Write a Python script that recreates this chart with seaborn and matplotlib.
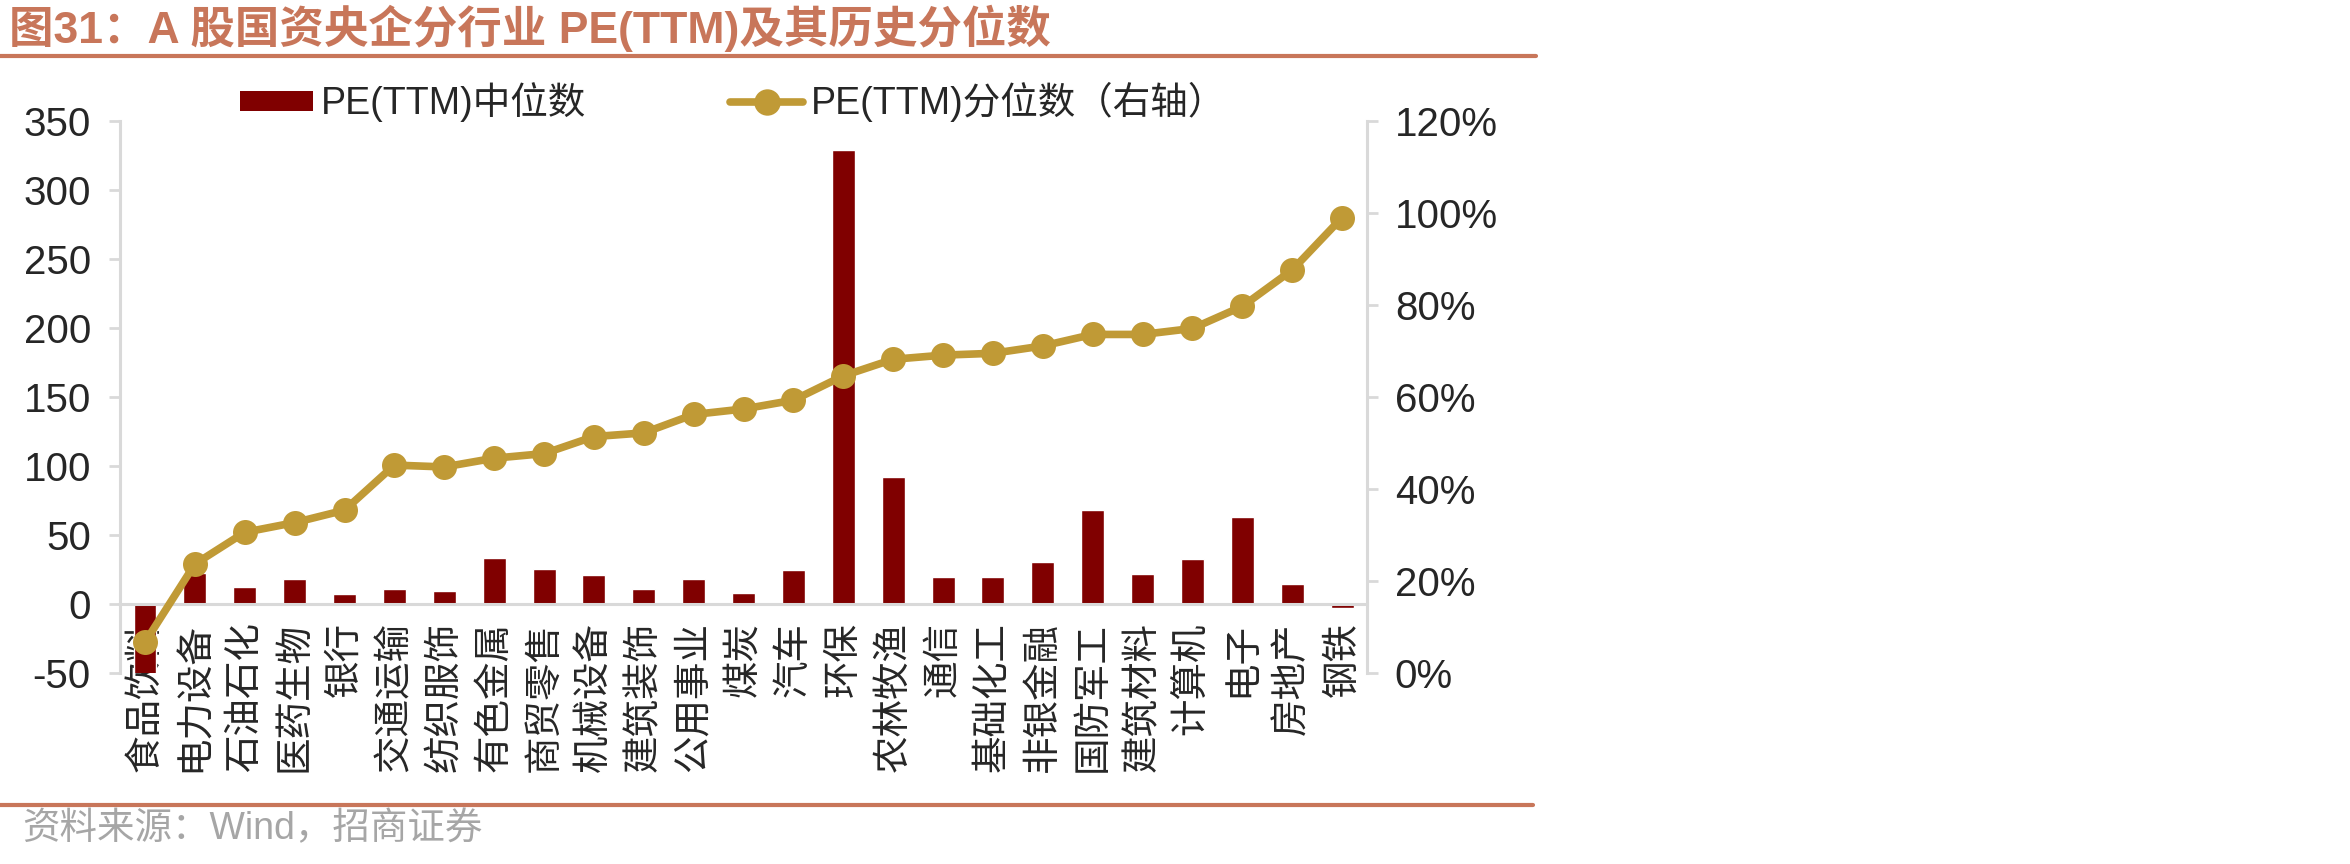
import numpy as np
import pandas as pd
import matplotlib
matplotlib.use("Agg")
import matplotlib.pyplot as plt
import seaborn as sns
from matplotlib.patches import Patch
from matplotlib.lines import Line2D
from matplotlib.ticker import PercentFormatter

# 行业名称
industries = ["食品饮料", "电力设备", "石油石化", "医药生物", "银行", "交通运输", "纺织服饰",
              "有色金属", "商贸零售", "机械设备", "建筑装饰", "公用事业", "煤炭", "汽车",
              "环保", "农林牧渔", "通信", "基础化工", "非银金融", "国防军工", "建筑材料",
              "计算机", "电子", "房地产", "钢铁"]
# PE(TTM)中位数（左轴）
pe_median = [-52, 22.4, 12, 18, 7.2, 10.8, 9.4, 33.5, 25.2, 21, 10.8, 18.3, 8.3, 24.7,
             329, 92.3, 19.7, 19.7, 30.5, 68.4, 21.6, 32.7, 63.2, 14.7, -2.8]
# PE(TTM)分位数（右轴）
pe_pct = [0.067, 0.237, 0.306, 0.327, 0.354, 0.452, 0.448, 0.467, 0.477, 0.514, 0.522,
          0.562, 0.574, 0.593, 0.646, 0.682, 0.691, 0.695, 0.711, 0.736, 0.736, 0.749,
          0.797, 0.876, 0.990]
left_ticks = [-50, 0, 50, 100, 150, 200, 250, 300, 350]
right_ticks = [0, 0.2, 0.4, 0.6, 0.8, 1.0, 1.2]

BAR = "#800000"
LINE = "#C09A36"
ACCENT = "#C8765A"
AXIS = "#D9D9D9"

sns.set_theme(style="white")
plt.rcParams["font.family"] = ["Liberation Sans", "Noto Sans CJK SC"]
plt.rcParams["axes.unicode_minus"] = False

df = pd.DataFrame({"行业": industries, "pe": pe_median, "pct": pe_pct})

fig = plt.figure(figsize=(23.5, 8.64), dpi=100)
ax = fig.add_axes([0.0511, 0.221, 0.5306, 0.639])

sns.barplot(data=df, x="行业", y="pe", color=BAR, saturation=1, width=0.46, ax=ax)
ax.set_xlim(-0.5, len(df) - 0.5)
ax.set_ylim(-50, 350)
ax.set_yticks(left_ticks)
ax.set_xlabel("")
ax.set_ylabel("")

# 横轴放在0处
ax.spines["bottom"].set_position(("data", 0))
for s in ["top", "right"]:
    ax.spines[s].set_visible(False)
for s in ["left", "bottom"]:
    ax.spines[s].set_color(AXIS)
    ax.spines[s].set_linewidth(2.2)
ax.tick_params(axis="x", length=0, pad=13, labelsize=27, labelrotation=90)
ax.tick_params(axis="y", direction="out", length=8, width=2, color=AXIS, pad=13, labelsize=29)
ax.yaxis.set_ticks_position("left")
for lab in ax.get_xticklabels():
    lab.set_verticalalignment("top")

# 右轴：分位数
ax2 = ax.twinx()
sns.lineplot(x=np.arange(len(df)), y=df["pct"], color=LINE, linewidth=5.5, marker="o",
             markersize=18, markeredgewidth=0, ax=ax2)
ax2.set_ylim(0, 1.2)
ax2.set_yticks(right_ticks)
ax2.yaxis.set_major_formatter(PercentFormatter(1.0, decimals=0))
ax2.set_ylabel("")
for s in ["top", "left", "bottom"]:
    ax2.spines[s].set_visible(False)
ax2.spines["right"].set_color(AXIS)
ax2.spines["right"].set_linewidth(2.2)
ax2.tick_params(axis="y", direction="out", length=8, width=2, color=AXIS, pad=12, labelsize=29)
ax2.yaxis.set_ticks_position("right")

# 图例
handles = [Patch(facecolor=BAR, edgecolor="none"),
           Line2D([0], [0], color=LINE, lw=5.5, marker="o", markersize=19, markeredgewidth=0)]
labels = ["PE(TTM)中位数", "PE(TTM)分位数（右轴）"]
fig.legend(handles, labels, ncol=2, loc="center left", bbox_to_anchor=(0.1021, 0.882),
           frameon=False, fontsize=27, borderpad=0, borderaxespad=0, handlelength=1.95,
           handleheight=0.45, handletextpad=0.2, columnspacing=3.85)

# 标题与分隔线
fig.text(0.004, 1 - 28 / 864, "图31：A 股国资央企分行业 PE(TTM)及其历史分位数", color=ACCENT,
         fontsize=32, fontweight="bold", ha="left", va="center")
fig.add_artist(Line2D([0, 0.6536], [1 - 56 / 864] * 2, color=ACCENT, lw=3))
fig.add_artist(Line2D([0, 0.6525], [1 - 805 / 864] * 2, color=ACCENT, lw=3))
fig.text(0.0094, 1 - 829 / 864, "资料来源：Wind，招商证券", color="#A6A6A6", fontsize=27,
         ha="left", va="center")

fig.savefig("out.png", dpi=100)
